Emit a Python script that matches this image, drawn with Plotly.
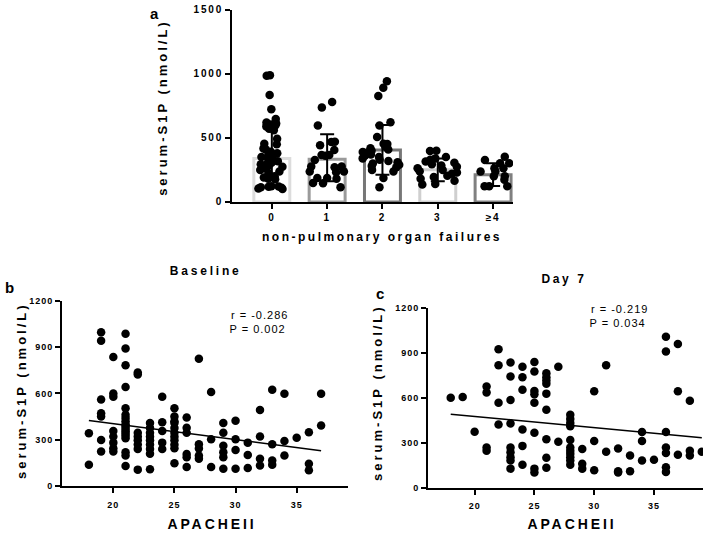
import json
import plotly.graph_objects as go

W, H = 708, 539
FONT = "Arial, Liberation Sans, sans-serif"

# ---------------- Panel a data ----------------
groups = ["0", "1", "2", "3", "≥4"]
bar_values = [340, 333, 405, 251, 213]
err_upper = [622, 528, 601, 340, 302]
err_lower = [174, 161, 213, 162, 124]
bar_colors = ["#dcdcdc", "#9a9a9a", "#777777", "#cfcfcf", "#808080"]

g0_values = [985, 990, 835, 724, 647, 620, 612, 605, 598, 590, 571, 560, 494, 455,
             450, 417, 410, 392, 380, 370, 360, 350, 340, 330, 318, 305, 300, 295,
             285, 275, 262, 250, 238, 225, 200, 190, 180, 176, 123, 118, 110, 105,
             100, 115, 120]
g1_values = [781, 737, 597, 470, 468, 443, 405, 366, 366, 360, 328, 276, 276, 270,
             238, 238, 232, 187, 187, 180, 148, 145, 115]
g2_values = [942, 891, 827, 622, 597, 507, 455, 452, 430, 420, 410, 400, 390, 380,
             370, 360, 350, 340, 330, 320, 310, 300, 290, 280, 270, 250, 238, 187, 115]
g3_values = [397, 400, 350, 340, 330, 315, 305, 295, 285, 275, 262, 250, 240, 230,
             220, 205, 195, 180, 165, 140, 135]
g4_values = [353, 328, 302, 302, 263, 263, 238, 238, 200, 200, 174, 123, 123, 123]

# ---------------- Panel b data (Baseline) ----------------
base_apache = [18, 18,
               19, 19, 19, 19, 19, 19, 19,
               20, 20, 20, 20, 20, 20, 20, 20,
               21, 21, 21, 21, 21, 21, 21, 21, 21, 21, 21, 21, 21, 21, 21, 21, 21, 21,
               22, 22, 22, 22, 22, 22, 22, 22,
               23, 23, 23, 23, 23, 23, 23, 23, 23,
               24, 24, 24, 24, 24,
               25, 25, 25, 25, 25, 25, 25, 25, 25, 25, 25,
               26, 26, 26, 26, 26, 26,
               27, 27, 27, 27, 27,
               28, 28, 28,
               29, 29, 29, 29, 29, 29,
               30, 30, 30, 30,
               31, 31, 31,
               32, 32, 32, 32,
               33, 33, 33, 33,
               34, 34, 34,
               35,
               36, 36, 36,
               37, 37]
base_s1p = [341, 138,
            997, 942, 561, 472, 451, 298, 224,
            836, 599, 578, 356, 320, 281, 245, 224,
            986, 891, 783, 641, 504, 461, 440, 419, 400, 385, 370, 355, 340, 325, 310, 218, 197, 129,
            736, 722, 345, 320, 296, 269, 240, 106,
            408, 376, 345, 320, 296, 269, 240, 209, 108,
            578, 413, 356, 281, 239,
            504, 451, 419, 408, 376, 345, 320, 296, 269, 245, 148,
            444, 377, 345, 208, 186, 123,
            825, 271, 243, 197, 176,
            609, 303, 123,
            408, 345, 260, 218, 186, 112,
            423, 303, 233, 112,
            281, 201, 116,
            493, 320, 176, 133,
            624, 271, 165, 138,
            597, 292, 197,
            313,
            349, 144, 102,
            597, 392]
base_fit_slope = -10.32
base_fit_intercept = 610.7
base_fit_x = [18, 37]

# ---------------- Panel c data (Day 7) ----------------
day7_apache = [18, 19, 20,
               21, 21, 21, 21,
               22, 22, 22, 22,
               23, 23, 23, 23, 23, 23, 23, 23, 23,
               24, 24, 24, 24, 24, 24,
               25, 25, 25, 25, 25, 25, 25, 25,
               26, 26, 26, 26, 26, 26, 26, 26, 26,
               27, 27,
               28, 28, 28, 28, 28, 28, 28, 28, 28, 28, 28,
               29, 29, 29,
               30, 30, 30,
               31, 31,
               32, 32, 32,
               33, 33,
               34, 34, 34,
               35,
               36, 36, 36, 36, 36, 36, 36,
               37, 37, 37,
               38, 38, 38,
               39]
day7_s1p = [600, 605, 373,
            675, 635, 268, 247,
            925, 818, 567, 421,
            836, 742, 585, 428, 268, 236, 203, 181, 127,
            807, 737, 654, 389, 279, 153,
            840, 775, 646, 624, 567, 367, 127, 101,
            764, 737, 716, 694, 628, 520, 323, 199, 133,
            807, 306,
            487, 458, 432, 410, 319, 268, 247, 227, 203, 181, 153,
            258, 160, 127,
            644, 312, 116,
            818, 240,
            262, 109, 101,
            214, 109,
            371, 312, 181,
            186,
            1008, 910, 371, 268, 232, 137, 105,
            960, 644, 219,
            581, 247, 214,
            240]
day7_fit_slope = -7.48
day7_fit_intercept = 625.6
day7_fit_x = [18, 39]

# ---------------- Figure ----------------
fig = go.Figure()

group_values = [g0_values, g1_values, g2_values, g3_values, g4_values]
box_x, box_y = [], []
for g, vals in zip(groups, group_values):
    box_x += [g] * len(vals)
    box_y += vals

fig.add_trace(go.Bar(
    x=groups, y=bar_values, width=0.65,
    marker=dict(color="white", line=dict(color=bar_colors, width=3)),
    xaxis="x", yaxis="y", hoverinfo="skip"))

fig.add_trace(go.Box(
    x=box_x, y=box_y, boxpoints="all", jitter=1.0, pointpos=0, width=0.76,
    fillcolor="rgba(0,0,0,0)", line=dict(color="rgba(0,0,0,0)", width=0),
    whiskerwidth=0,
    marker=dict(color="black", size=8.5, line=dict(width=0)),
    xaxis="x", yaxis="y", hoverinfo="skip"))

fig.add_trace(go.Scatter(
    x=groups, y=bar_values, mode="markers",
    marker=dict(size=1, color="rgba(0,0,0,0)"),
    error_y=dict(type="data", symmetric=False,
                 array=[u - v for u, v in zip(err_upper, bar_values)],
                 arrayminus=[v - l for v, l in zip(bar_values, err_lower)],
                 color="black", thickness=2, width=7),
    xaxis="x", yaxis="y", hoverinfo="skip"))

fig.add_trace(go.Scatter(
    x=base_apache, y=base_s1p, mode="markers",
    marker=dict(color="black", size=8.5),
    xaxis="x2", yaxis="y2", hoverinfo="skip"))
fig.add_trace(go.Scatter(
    x=base_fit_x, y=[base_fit_intercept + base_fit_slope * x for x in base_fit_x],
    mode="lines", line=dict(color="black", width=1.5),
    xaxis="x2", yaxis="y2", hoverinfo="skip"))

fig.add_trace(go.Scatter(
    x=day7_apache, y=day7_s1p, mode="markers",
    marker=dict(color="black", size=8.5),
    xaxis="x3", yaxis="y3", hoverinfo="skip"))
fig.add_trace(go.Scatter(
    x=day7_fit_x, y=[day7_fit_intercept + day7_fit_slope * x for x in day7_fit_x],
    mode="lines", line=dict(color="black", width=1.5),
    xaxis="x3", yaxis="y3", hoverinfo="skip"))

axis_common = dict(showline=True, linecolor="black", linewidth=2, ticks="outside",
                   ticklen=5, tickwidth=2, tickcolor="black", showgrid=False,
                   zeroline=False)

fig.update_layout(
    width=W, height=H, autosize=False,
    margin=dict(l=0, r=0, t=0, b=0),
    paper_bgcolor="white", plot_bgcolor="white",
    showlegend=False,
    font=dict(family=FONT, color="black"),
    xaxis=dict(domain=[232 / W, 513 / W], anchor="y", type="category",
               range=[-0.72, 4.36],
               tickfont=dict(family=FONT, size=10, weight="bold", color="black"),
               **axis_common),
    yaxis=dict(domain=[1 - 201 / H, 1 - 5 / H], anchor="x", range=[0, 1500],
               tickvals=[0, 500, 1000, 1500],
               tickfont=dict(family=FONT, size=10, weight="bold", color="black"),
               **axis_common),
    xaxis2=dict(domain=[62 / W, 348 / W], anchor="y2", range=[15.8, 39.2],
                tickvals=[20, 25, 30, 35], ticklabelstandoff=4,
                tickfont=dict(family=FONT, size=9, weight="bold", color="black"),
                **axis_common),
    yaxis2=dict(domain=[1 - 491 / H, 1 - 302 / H], anchor="x2", range=[0, 1200],
                tickvals=[0, 300, 600, 900, 1200],
                tickfont=dict(family=FONT, size=9, weight="bold", color="black"),
                **axis_common),
    xaxis3=dict(domain=[428 / W, 703 / W], anchor="y3", range=[16.1, 39.1],
                tickvals=[20, 25, 30, 35], ticklabelstandoff=4,
                tickfont=dict(family=FONT, size=9, weight="bold", color="black"),
                **axis_common),
    yaxis3=dict(domain=[1 - 492.7 / H, 1 - 309.3 / H], anchor="x3", range=[0, 1200],
                tickvals=[0, 300, 600, 900, 1200],
                tickfont=dict(family=FONT, size=9, weight="bold", color="black"),
                **axis_common),
)


def ann(text, px, py, size, bold=True, angle=0, xanchor="center"):
    fig.add_annotation(
        text=text, x=px / W, y=1 - py / H, xref="paper", yref="paper",
        xanchor=xanchor, yanchor="middle", showarrow=False, textangle=angle,
        font=dict(family=FONT, size=size, color="black",
                  weight="bold" if bold else "normal"))


ann("a", 154, 9, 15)
ann("serum-S1P (nmol/L)", 163, 105, 13, angle=-90)
ann("non-pulmonary organ failures", 382, 237, 12)

ann("b", 9, 288, 15)
ann("Baseline", 206, 272, 12)
ann("serum-S1P (nmol/L)", 22, 394, 13, angle=-90)
ann("APACHEII", 212, 530, 14)
ann("r = -0.286", 234, 316, 11, bold=False, xanchor="left")
ann("P = 0.002", 232, 331, 11, bold=False, xanchor="left")

ann("c", 380, 294, 15)
ann("Day 7", 564, 280, 12)
ann("serum-S1P (nmol/L)", 378, 396, 13, angle=-90)
ann("APACHEII", 572, 530, 14)
ann("r = -0.219", 594, 310, 11, bold=False, xanchor="left")
ann("P = 0.034", 592, 325, 11, bold=False, xanchor="left")

spacing = {"serum": "3px", "non-pulmonary": "2.5px", "Baseline": "2.8px",
           "Day 7": "2.6px", "APACHEII": "2.9px", "r =": "1px", "P =": "1px"}

post = """
document.documentElement.style.margin = '0';
document.documentElement.style.padding = '0';
document.body.style.margin = '0';
document.body.style.padding = '0';
var gd = document.getElementById('{plot_id}');
var SP = %s;
function setSp(sel, v) {
  gd.querySelectorAll(sel).forEach(function(t){ t.setAttribute('letter-spacing', v); });
}
setSp('g.xtick text, g.ytick text', '1.8px');
setSp('g.x2tick text, g.y2tick text, g.x3tick text, g.y3tick text', '1px');
gd.querySelectorAll('text.annotation-text').forEach(function(t){
  var s = t.textContent;
  Object.keys(SP).forEach(function(k){ if (s.indexOf(k) === 0) { t.setAttribute('letter-spacing', SP[k]); } });
});
""" % json.dumps(spacing)

fig.write_html("out.html", post_script=post, config={"displayModeBar": False})
